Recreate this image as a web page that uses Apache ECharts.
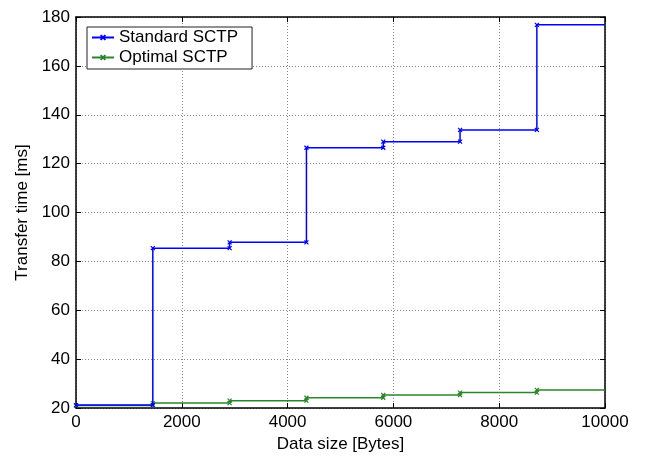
<!DOCTYPE html>
<html>
<head>
<meta charset="utf-8">
<script src="https://cdn.jsdelivr.net/npm/echarts@6/dist/echarts.min.js"></script>
<style>
  html, body { margin: 0; padding: 0; background: #fff; }
</style>
</head>
<body>
<div id="myChart" style="width: 650px; height: 460px;"></div>
<script>
// step edges on the data size axis (bytes)
const stepEdges = [0, 1452, 2904, 4356, 5808, 7260, 8712, 10000];
// transfer time held over each step (ms)
const standardSCTP = [21.2, 85.4, 87.8, 126.5, 129.0, 133.8, 176.8];
const optimalSCTP = [21.0, 22.0, 23.0, 24.2, 25.3, 26.3, 27.4];
const xTicks = [0, 2000, 4000, 6000, 8000, 10000];
const yTicks = [20, 40, 60, 80, 100, 120, 140, 160, 180];

// every step gives two corners, markers on both
function stairs(values) {
  let pts = [];
  for (let i = 0; i < values.length; i++) {
    pts.push([stepEdges[i], values[i]]);
    if (i === values.length - 1) {
      pts.push({ value: [stepEdges[i + 1], values[i]], symbol: 'none' });
    } else {
      pts.push([stepEdges[i + 1], values[i]]);
    }
  }
  return pts;
}

const cross = 'path://M0,0L10,10M10,0L0,10';
const font = 'Liberation Sans, Arial, sans-serif';
const fs = 17;

let myChart = echarts.init(document.getElementById('myChart'));
let baseX = {
  type: 'value',
  min: xTicks[0],
  max: xTicks[xTicks.length - 1],
  interval: 2000,
  axisLine: { show: true, onZero: false, lineStyle: { color: '#000', width: 1.5 } },
  axisTick: { show: true, inside: true, length: 5, lineStyle: { color: '#000' } }
};
let baseY = {
  type: 'value',
  min: yTicks[0],
  max: yTicks[yTicks.length - 1],
  interval: 20,
  axisLine: { show: true, onZero: false, lineStyle: { color: '#000', width: 1.5 } },
  axisTick: { show: true, inside: true, length: 5, lineStyle: { color: '#000' } }
};
let option = {
  animation: false,
  backgroundColor: '#fff',
  textStyle: { fontFamily: font },
  grid: { left: 76, top: 17, right: 45, bottom: 52 },
  legend: {
    orient: 'vertical',
    left: 87,
    top: 27,
    itemWidth: 22,
    itemHeight: 6,
    itemGap: 3,
    padding: [2, 14, 3, 4],
    backgroundColor: '#fff',
    borderColor: '#222',
    borderWidth: 1,
    textStyle: { fontFamily: font, fontSize: fs, color: '#000' },
    data: ['Standard SCTP', 'Optimal SCTP']
  },
  xAxis: [
    Object.assign({}, baseX, {
      position: 'bottom',
      name: 'Data size [Bytes]',
      nameLocation: 'middle',
      nameGap: 24,
      nameTextStyle: { fontFamily: font, fontSize: fs, color: '#000' },
      axisLabel: { fontFamily: font, fontSize: fs, color: '#000', margin: 6, formatter: v => String(v) },
      splitLine: { show: true, lineStyle: { color: '#888', type: [1, 2], width: 1 } }
    }),
    Object.assign({}, baseX, {
      position: 'top',
      axisLabel: { show: false },
      splitLine: { show: false }
    })
  ],
  yAxis: [
    Object.assign({}, baseY, {
      position: 'left',
      name: 'Transfer time [ms]',
      nameLocation: 'middle',
      nameGap: 44,
      nameTextStyle: { fontFamily: font, fontSize: fs, color: '#000' },
      axisLabel: { fontFamily: font, fontSize: fs, color: '#000', margin: 6 },
      splitLine: { show: true, lineStyle: { color: '#888', type: [1, 2], width: 1 } }
    }),
    Object.assign({}, baseY, {
      position: 'right',
      axisLabel: { show: false },
      splitLine: { show: false }
    })
  ],
  series: [
    {
      name: 'Standard SCTP',
      type: 'line',
      xAxisIndex: 0,
      yAxisIndex: 0,
      data: stairs(standardSCTP),
      symbol: cross,
      symbolSize: 4,
      showAllSymbol: true,
      lineStyle: { color: '#0000ff', width: 1.5 },
      itemStyle: { color: '#0000ff', borderColor: '#0000ff', borderWidth: 1.2 },
      z: 3
    },
    {
      name: 'Optimal SCTP',
      type: 'line',
      xAxisIndex: 0,
      yAxisIndex: 0,
      data: stairs(optimalSCTP),
      symbol: cross,
      symbolSize: 4,
      showAllSymbol: true,
      lineStyle: { color: '#2a862a', width: 1.5 },
      itemStyle: { color: '#2a862a', borderColor: '#2a862a', borderWidth: 1.2 },
      z: 2
    }
  ]
};
myChart.setOption(option);
</script>
</body>
</html>
